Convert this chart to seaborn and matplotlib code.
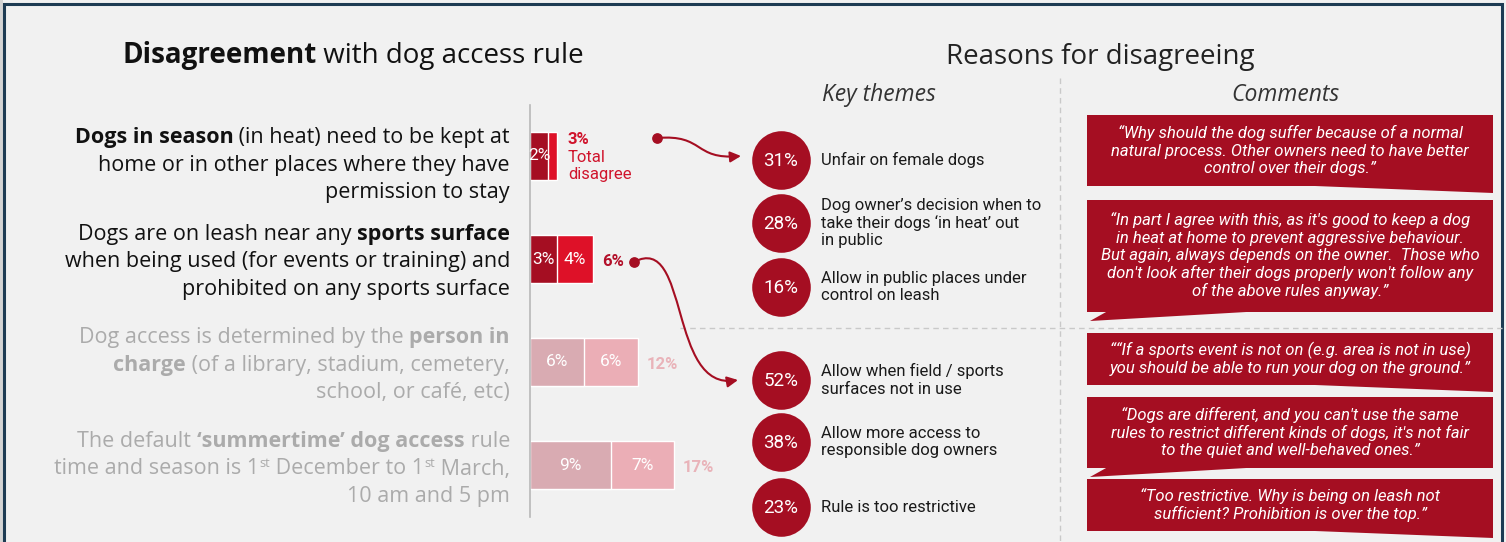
import re
import numpy as np
import pandas as pd
import matplotlib
matplotlib.use("Agg")
import matplotlib.pyplot as plt
import seaborn as sns
from matplotlib.patches import Polygon, FancyArrowPatch, Rectangle
from matplotlib.path import Path

# ---- data ----
RULE_KEYS = ['season', 'sports', 'person', 'summer']
RULE_LINES = [
    ['**Dogs in season** (in heat) need to be kept at',
     'home or in other places where they have',
     'permission to stay'],
    ['Dogs are on leash near any **sports surface**',
     'when being used (for events or training) and',
     'prohibited on any sports surface'],
    ['Dog access is determined by the **person in**',
     '**charge** (of a library, stadium, cemetery,',
     'school, or café, etc)'],
    ['The default **‘summertime’ dog access** rule',
     'time and season is 1^{st} December to 1^{st} March,',
     '10 am and 5 pm'],
]
DARK_VALS = [2, 3, 6, 9]      # strongly disagree
BRIGHT_VALS = [1, 4, 6, 7]    # disagree
TOTAL_VALS = [3, 6, 12, 17]   # total disagree

THEME_PCTS = [31, 28, 16, 52, 38, 23]
THEME_LABELS = [
    'Unfair on female dogs',
    'Dog owner’s decision when to\ntake their dogs ‘in heat’ out\nin public',
    'Allow in public places under\ncontrol on leash',
    'Allow when field / sports\nsurfaces not in use',
    'Allow more access to\nresponsible dog owners',
    'Rule is too restrictive',
]

COMMENTS = [
    '“Why should the dog suffer because of a normal\nnatural process. Other owners need to have better\ncontrol over their dogs.”',
    '“In part I agree with this, as it\'s good to keep a dog\nin heat at home to prevent aggressive behaviour.\n'
    'But again, always depends on the owner.  Those who\ndon\'t look after their dogs properly won\'t follow any\n'
    'of the above rules anyway.”',
    '““If a sports event is not on (e.g. area is not in use)\nyou should be able to run your dog on the ground.”',
    '“Dogs are different, and you can\'t use the same\nrules to restrict different kinds of dogs, it\'s not fair\n'
    'to the quiet and well-behaved ones.”',
    '“Too restrictive. Why is being on leash not\nsufficient? Prohibition is over the top.”',
]

# ---- styling ----
BG = '#F1F1F1'
RED = '#A50E22'
BRIGHT = '#DE1128'
PALE_DARK = '#D9ABB2'
PALE_BRIGHT = '#EBAEB6'
DARK_COLORS = [RED, RED, PALE_DARK, PALE_DARK]
BRIGHT_COLORS = [BRIGHT, BRIGHT, PALE_BRIGHT, PALE_BRIGHT]
TOTAL_COLORS = ['#D0142C', '#B3102A', '#E9B3B9', '#E9B3B9']
RULE_COLORS = ['#111111', '#111111', '#ABABAB', '#ABABAB']
SANS = ['Open Sans', 'DejaVu Sans']
ROBO = ['Roboto', 'DejaVu Sans']

W, H = 1506, 542
sns.set_theme(style='white')
plt.rcParams['font.family'] = SANS

fig = plt.figure(figsize=(W / 100, H / 100), dpi=100)
fig.patch.set_facecolor(BG)
bg = fig.add_axes([0, 0, 1, 1])
bg.set_xlim(0, W)
bg.set_ylim(H, 0)
bg.axis('off')
renderer = fig.canvas.get_renderer()

# frame
bg.add_patch(Rectangle((0, 0), 3, H, color='#D4D4D4', lw=0))
bg.plot([4, 4, 1502, 1502], [H, 3.5, 3.5, H], color='#1D3B53', lw=2.2, solid_joinstyle='miter')


def text_width(s, **kw):
    t1 = bg.text(0, 0, '|' + s + '|', **kw)
    t2 = bg.text(0, 0, '||', **kw)
    w = t1.get_window_extent(renderer).width - t2.get_window_extent(renderer).width
    t1.remove()
    t2.remove()
    return w


def parse(line):
    segs = []
    for i, part in enumerate(line.split('**')):
        for j, sub in enumerate(re.split(r'\^\{(.*?)\}', part)):
            if sub:
                segs.append((sub, i % 2 == 1, j % 2 == 1))
    return segs


def rich_line(x, y, line, size, color, ha='right'):
    items = []
    for txt, bold, sup in parse(line):
        kw = dict(fontsize=size * 0.6 if sup else size,
                  fontweight='bold' if bold else 'normal', color=color)
        items.append((txt, kw, sup, text_width(txt, **kw)))
    total = sum(it[3] for it in items)
    cur = x - total if ha == 'right' else (x - total / 2 if ha == 'center' else x)
    for txt, kw, sup, w in items:
        yy = y - size * 0.5 if sup else y
        bg.text(cur, yy, txt, va='baseline', ha='left', **kw)
        cur += w


# titles
rich_line(353, 63, '**Disagreement** with dog access rule', 20, '#111111', ha='center')
bg.text(1100, 64, 'Reasons for disagreeing', fontsize=20, color='#222222',
        ha='center', va='baseline')
bg.text(879, 101, 'Key themes', fontsize=16.5, style='italic', color='#333333',
        ha='center', va='baseline')
bg.text(1285, 101, 'Comments', fontsize=16.5, style='italic', color='#333333',
        ha='center', va='baseline')

# rule descriptions
row_y = [143, 240, 343, 447]
for lines, y0, col in zip(RULE_LINES, row_y, RULE_COLORS):
    for k, ln in enumerate(lines):
        rich_line(510, y0 + 27.5 * k, ln, 15.5, col)

# ---- stacked bars ----
px_per_pct = 9.0
bx = fig.add_axes([530 / W, 1 - 516.5 / H, 300 / W, 412 / H])
bx.set_facecolor('none')
df = pd.DataFrame({'rule': RULE_KEYS, 'dark': DARK_VALS, 'bright': BRIGHT_VALS,
                   'total': TOTAL_VALS})
df['stack'] = df['dark'] + df['bright']
sns.barplot(data=df, x='stack', y='rule', hue='rule', palette=BRIGHT_COLORS,
            orient='h', width=0.46, saturation=1, legend=False, ax=bx)
sns.barplot(data=df, x='dark', y='rule', hue='rule', palette=DARK_COLORS,
            orient='h', width=0.46, saturation=1, legend=False, ax=bx)
bx.set_xlim(0, 300 / px_per_pct)
bx.set_ylim(3.5, -0.5)
bx.set_xlabel('')
bx.set_ylabel('')
bx.set_xticks([])
bx.set_yticks([])
for s in ['top', 'right', 'bottom']:
    bx.spines[s].set_visible(False)
bx.spines['left'].set_color('#B8B8B8')
bx.spines['left'].set_linewidth(1.2)

for i, r in df.iterrows():
    bx.text(r['dark'] / 2, i, f"{r['dark']}%", color='white', fontsize=12.5,
            ha='center', va='center', family=ROBO)
    if r['bright'] >= 2:
        bx.text(r['dark'] + r['bright'] / 2, i, f"{r['bright']}%", color='white',
                fontsize=12.5, ha='center', va='center', family=ROBO)
    if i == 0:
        bx.text(r['stack'] + 1.2, i - 0.165, f"{r['total']}%", color=TOTAL_COLORS[i],
                fontsize=12, fontweight='bold', ha='left', va='center', family=ROBO)
        bx.text(r['stack'] + 1.2, i + 0.1, 'Total\ndisagree', color=TOTAL_COLORS[i],
                fontsize=12, ha='left', va='center', linespacing=1.2, family=ROBO)
    else:
        bx.text(r['stack'] + 1.0, i + 0.02, f"{r['total']}%", color=TOTAL_COLORS[i],
                fontsize=12, fontweight='bold', ha='left', va='center', family=ROBO)

# ---- key themes ----
circle_y = [160, 223, 287, 380, 442, 507]
sns.scatterplot(x=[781] * len(THEME_PCTS), y=circle_y, s=1780, color=RED,
                linewidth=0, ax=bg, zorder=3, legend=False)
for pct, lab, cy in zip(THEME_PCTS, THEME_LABELS, circle_y):
    bg.text(781, cy + 1, f'{pct}%', color='white', fontsize=13.5, ha='center',
            va='center', zorder=4, family=ROBO)
    bg.text(821, cy, lab, color='#1A1A1A', fontsize=12, ha='left', va='center',
            linespacing=1.2, family=ROBO)

# separators
bg.plot([1060, 1060], [78, H], color='#C9C9C9', lw=1, ls=(0, (4, 3)))
bg.plot([680, 1502], [328, 328], color='#C9C9C9', lw=1, ls=(0, (4, 3)))

# arrows
arrow_paths = [
    [(657, 138), (705, 134), (693, 160), (741, 156)],
    [(634, 262), (690, 232), (668, 392), (738, 380)],
]
for pts in arrow_paths:
    bg.scatter([pts[0][0]], [pts[0][1]], s=45, color=RED, zorder=5)
    path = Path(pts, [Path.MOVETO, Path.CURVE4, Path.CURVE4, Path.CURVE4])
    bg.add_patch(FancyArrowPatch(path=path, arrowstyle='-|>', mutation_scale=16,
                                 color=RED, lw=1.5, zorder=5))

# ---- comment bubbles ----
boxes = [(115, 186, 'right'), (200, 312, 'left'), (333, 385, 'right'),
         (397, 468, 'left'), (479, 531, 'right')]
x0, x1 = 1087, 1493
for (top, bot, tail), txt in zip(boxes, COMMENTS):
    bg.add_patch(Rectangle((x0, top), x1 - x0, bot - top, color=RED, lw=0, zorder=2))
    if tail == 'right':
        tri = [(1315, bot - 0.5), (x1, bot - 0.5), (x1, bot + 6.5)]
    else:
        tri = [(x0 + 20, bot - 0.5), (1255, bot - 0.5), (x0 + 3, bot + 9)]
    bg.add_patch(Polygon(tri, closed=True, color=RED, lw=0, zorder=2))
    bg.text((x0 + x1) / 2, (top + bot) / 2, txt, color='white', fontsize=12,
            style='italic', ha='center', va='center', linespacing=1.18, zorder=3,
            family=ROBO)

fig.savefig('out.png', dpi=100, facecolor=BG)
